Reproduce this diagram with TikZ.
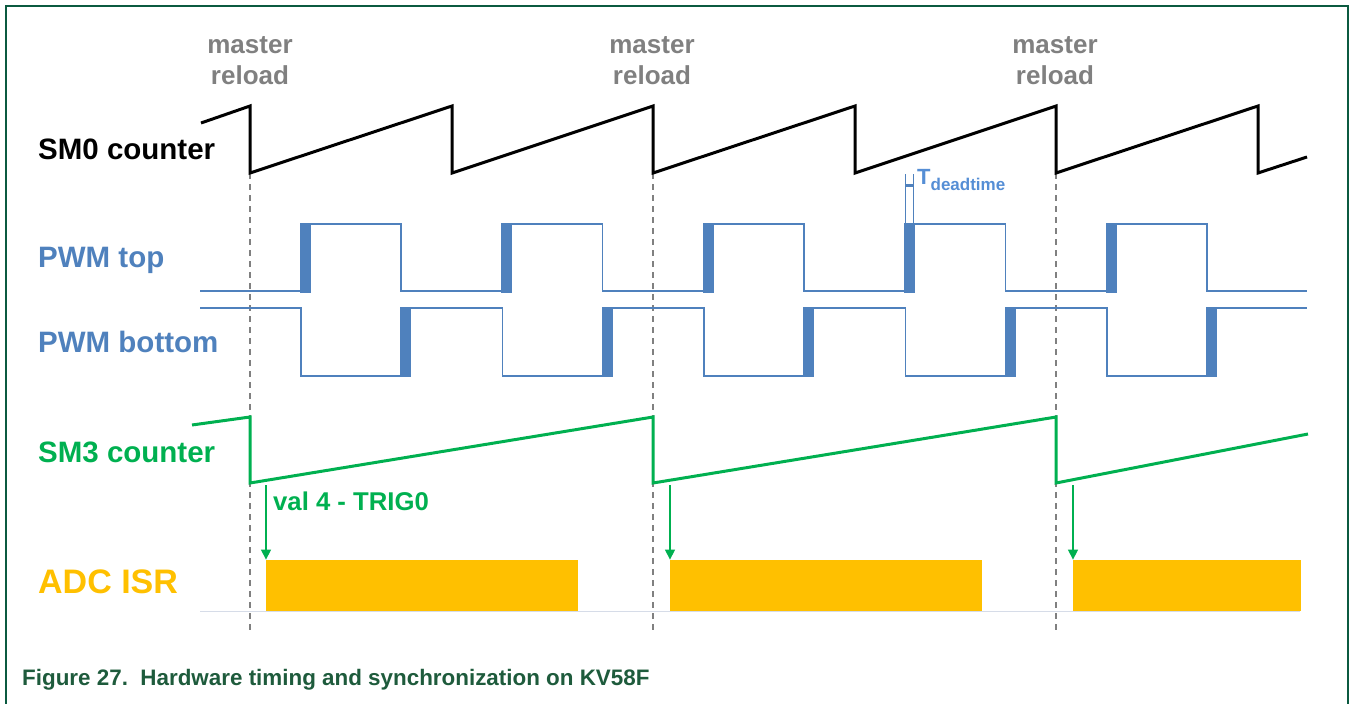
\documentclass[tikz,border=0pt]{standalone}
\usepackage{fontspec}
\setmainfont{Liberation Sans}
\usetikzlibrary{arrows.meta,positioning}
\definecolor{pwmblue}{HTML}{4F81BD}
\definecolor{deadblue}{HTML}{558ED5}
\definecolor{smgreen}{HTML}{00B050}
\definecolor{isrorange}{HTML}{FFC000}
\definecolor{relgray}{HTML}{808080}
\definecolor{framegreen}{HTML}{0B5A40}
\definecolor{capgreen}{HTML}{1E5B3C}
\definecolor{baseblue}{HTML}{D6DCE8}
\tikzset{
    %Define standard arrow tip
    >={Triangle[length=10pt,width=10pt]},
    %Define style for the signal names
    lbl/.style={
           anchor=base west,
           inner sep=0pt,
           font=\bfseries\fontsize{29.5}{33}\selectfont},
    % Define style for the reload marks
    reload/.style={
           align=center,
           anchor=north,
           inner sep=0pt,
           text=relgray,
           font=\bfseries\fontsize{26}{31}\selectfont},
    % Define wave styles
    cnt/.style={line width=3pt, line join=miter},
    pwm/.style={draw=pwmblue, line width=1.8pt},
    dead/.style={fill=pwmblue, draw=none},
    sync/.style={draw=relgray, line width=1.2pt, dash pattern=on 6pt off 5pt},
    trig/.style={->, draw=smgreen, fill=smgreen, line width=1.3pt},
    isr/.style={
           fill=isrorange,
           draw=none,
           anchor=south west,
           minimum height=51pt,
           inner sep=0pt}
}

\begin{document}
\begin{tikzpicture}[x=1pt,y=-1pt]
\useasboundingbox (0,0) rectangle (1353,704);

% frame
\draw[framegreen, line width=2.5pt] (6,704) -- (6,6) -- (1348,6) -- (1348,704);

% signal names
\node[lbl] (sm0lbl) at (38,159) {SM0 counter};
\node[lbl, text=pwmblue] (toplbl) at (38,267) {PWM top};
\node[lbl, text=pwmblue] (botlbl) at (38,352) {PWM bottom};
\node[lbl, text=smgreen] (sm3lbl) at (38,462) {SM3 counter};
\node[lbl, text=isrorange, font=\bfseries\fontsize{34}{38}\selectfont] (adclbl) at (38,593) {ADC ISR};

% master reload marks
\node[reload] (mr1) at (250,36) {master\\reload};
\node[reload] (mr2) at (652,36) {master\\reload};
\node[reload] (mr3) at (1055,36) {master\\reload};

\coordinate (s1) at (250,173);
\coordinate (e1) at (250,630);
\coordinate (s2) at (653,173);
\coordinate (e2) at (653,630);
\coordinate (s3) at (1056,173);
\coordinate (e3) at (1056,630);
\draw[sync] (s1) -- (e1);
\draw[sync] (s2) -- (e2);
\draw[sync] (s3) -- (e3);

% SM0 counter
\draw[cnt] (201,123) -- (250,106) -- (250,173) -- (452,106) -- (452,173)
    -- (653,106) -- (653,173) -- (855,106) -- (855,173) -- (1056,106)
    -- (1056,173) -- (1258,106) -- (1258,173) -- (1307,157);

% PWM top
\draw[pwm] (200,291) -- (305,291) -- (305,224) -- (401,224) -- (401,291)
    -- (506.5,291) -- (506.5,224) -- (602.5,224) -- (602.5,291)
    -- (708,291) -- (708,224) -- (804,224) -- (804,291)
    -- (909.5,291) -- (909.5,224) -- (1005.5,224) -- (1005.5,291)
    -- (1111,291) -- (1111,224) -- (1207,224) -- (1207,291) -- (1307,291);
\fill[dead] (299.5,223) rectangle (310.5,292.5);
\fill[dead] (501,223) rectangle (512,292.5);
\fill[dead] (702.5,223) rectangle (713.5,292.5);
\fill[dead] (904,223) rectangle (915,292.5);
\fill[dead] (1105.5,223) rectangle (1116.5,292.5);

% PWM bottom
\draw[pwm] (200,308) -- (301,308) -- (301,376) -- (405.5,376) -- (405.5,308)
    -- (502.5,308) -- (502.5,376) -- (607,376) -- (607,308)
    -- (704,308) -- (704,376) -- (808.5,376) -- (808.5,308)
    -- (905.5,308) -- (905.5,376) -- (1010,376) -- (1010,308)
    -- (1107,308) -- (1107,376) -- (1211.5,376) -- (1211.5,308) -- (1307,308);
\fill[dead] (400,307) rectangle (411,377);
\fill[dead] (601.5,307) rectangle (612.5,377);
\fill[dead] (803,307) rectangle (814,377);
\fill[dead] (1004.5,307) rectangle (1015.5,377);
\fill[dead] (1206,307) rectangle (1217,377);

% dead time mark
\coordinate (d1) at (905.5,174);
\coordinate (d2) at (913.5,174);
\draw[pwmblue, line width=0.8pt] (d1) -- (905.5,224);
\draw[pwmblue, line width=0.8pt] (d2) -- (913.5,224);
\draw[pwmblue, line width=3pt] (905.5,185) -- (913.5,185);
\node[anchor=base west, inner sep=0pt, text=deadblue, font=\bfseries] (tdead) at (917,184)
    {{\fontsize{22}{22}\selectfont T}{\fontsize{17}{17}\selectfont\raisebox{-6pt}{deadtime}}};

% SM3 counter
\draw[cnt, smgreen] (192,425) -- (250,417) -- (250,483) -- (653,417) -- (653,483)
    -- (1056,417) -- (1056,483) -- (1308,434);
\node[anchor=base west, inner sep=0pt, text=smgreen, font=\bfseries\fontsize{25.7}{30}\selectfont]
    (trig0) at (273,510) {val 4 - TRIG0};

% ADC ISR
\draw[baseblue, line width=1pt] (200,611) -- (1300,611);
\node[isr, minimum width=312pt] (isr1) at (266,611) {};
\node[isr, minimum width=312pt] (isr2) at (670,611) {};
\node[isr, minimum width=228pt] (isr3) at (1073,611) {};

\coordinate (t1) at (266,485);
\coordinate (t2) at (670,485);
\coordinate (t3) at (1073,485);
\draw[trig] (t1) -- (isr1.north west);
\draw[trig] (t2) -- (isr2.north west);
\draw[trig] (t3) -- (isr3.north west);

% caption
\node[anchor=base west, inner sep=0pt, text=capgreen, font=\bfseries\fontsize{22.4}{26}\selectfont]
    (caption) at (22,685) {Figure 27.\ \ Hardware timing and synchronization on KV58F};
\end{tikzpicture}
\end{document}
